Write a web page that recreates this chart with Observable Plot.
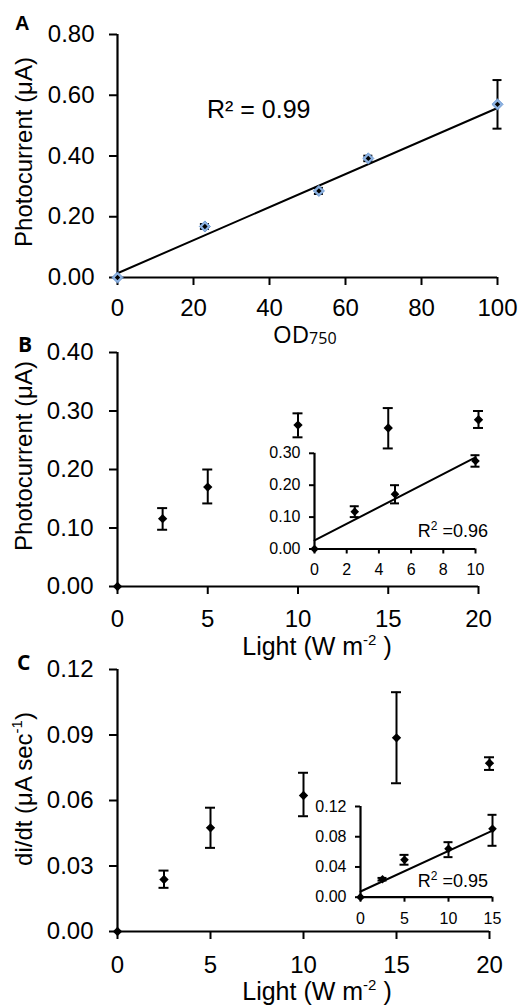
<!DOCTYPE html>
<html><head><meta charset="utf-8">
<script src="https://cdn.jsdelivr.net/npm/d3@7"></script>
<script src="https://cdn.jsdelivr.net/npm/@observablehq/plot@0.6"></script>
<style>
body{margin:0;background:#fff}
#wrap{position:relative;width:519px;height:1005px;overflow:hidden;background:#fff}
#wrap > *{position:absolute}
</style></head><body><div id="wrap"></div>
<script>
// ---------- Panel A data ----------
const aX = [0, 23, 53, 66, 100];
const aY = [0, 0.168, 0.285, 0.392, 0.57];
const aLo = [0, 0.160, 0.275, 0.383, 0.49];
const aHi = [0, 0.176, 0.295, 0.401, 0.65];
const aFitX = [0, 100];
const aFitY = [0.014, 0.558];
const aXTicks = [0, 20, 40, 60, 80, 100];
const aYTicks = [0, 0.2, 0.4, 0.6, 0.8];

// ---------- Panel B data ----------
const bX = [0, 2.5, 5, 10, 15, 20];
const bY = [0, 0.116, 0.170, 0.276, 0.271, 0.285];
const bLo = [0, 0.097, 0.142, 0.255, 0.236, 0.271];
const bHi = [0, 0.134, 0.200, 0.296, 0.305, 0.300];
const bXTicks = [0, 5, 10, 15, 20];
const bYTicks = [0, 0.1, 0.2, 0.3, 0.4];
// inset B
const biX = [0, 2.5, 5, 10];
const biY = [0, 0.117, 0.172, 0.276];
const biLo = [0, 0.100, 0.143, 0.258];
const biHi = [0, 0.134, 0.200, 0.294];
const biFitX = [0, 10];
const biFitY = [0.027, 0.287];
const biXTicks = [0, 2, 4, 6, 8, 10];
const biYTicks = [0, 0.1, 0.2, 0.3];

// ---------- Panel C data ----------
const cX = [0, 2.5, 5, 10, 15, 20];
const cY = [0, 0.0238, 0.0475, 0.0623, 0.0887, 0.0771];
const cLo = [0, 0.0200, 0.0383, 0.0528, 0.0679, 0.0740];
const cHi = [0, 0.0279, 0.0567, 0.0727, 0.1096, 0.0798];
const cXTicks = [0, 5, 10, 15, 20];
const cYTicks = [0, 0.03, 0.06, 0.09, 0.12];
// inset C
const ciX = [0, 2.5, 5, 10, 15];
const ciY = [0, 0.0238, 0.0494, 0.064, 0.0905];
const ciLo = [0, 0.022, 0.043, 0.053, 0.068];
const ciHi = [0, 0.0255, 0.056, 0.0728, 0.109];
const ciFitX = [0, 15];
const ciFitY = [0.0075, 0.088];
const ciXTicks = [0, 5, 10, 15];
const ciYTicks = [0, 0.04, 0.08, 0.12];

const rows = (xs, ys, lo, hi) => xs.map((x, i) => ({x, y: ys[i], lo: lo ? lo[i] : null, hi: hi ? hi[i] : null}));

function panel(o) {
  const pts = rows(o.x, o.y, o.lo, o.hi);
  const err = pts.filter(d => d.hi > d.lo);
  const fit = o.fitX ? rows(o.fitX, o.fitY) : [];
  const marks = [
    Plot.ruleX([0], {strokeWidth: 2.2}),
    Plot.ruleY([0], {strokeWidth: 2.2}),
    Plot.axisX({ticks: o.xTicks, tickFormat: d => String(d), tickSize: o.tickSize, tickPadding: o.padX, strokeWidth: 2, label: null}),
    Plot.axisY({ticks: o.yTicks, tickFormat: d3.format(".2f"), tickSize: o.tickSize, tickPadding: o.padY, strokeWidth: 2, label: null}),
    Plot.line(fit, {x: "x", y: "y", strokeWidth: 2, stroke: "black"}),
    Plot.ruleX(err, {x: "x", y1: "lo", y2: "hi", strokeWidth: 2}),
    Plot.ruleY(err, {x1: "x", x2: "x", y: "lo", insetLeft: -o.cap, insetRight: -o.cap, strokeWidth: 2}),
    Plot.ruleY(err, {x1: "x", x2: "x", y: "hi", insetLeft: -o.cap, insetRight: -o.cap, strokeWidth: 2})
  ];
  if (o.blue) {
    marks.push(Plot.dot(pts, {x: "x", y: "y", symbol: "diamond2", r: 5, fill: "#8fb4e3", stroke: "#6f9bd3", strokeWidth: 1}));
    marks.push(Plot.dot(pts, {x: "x", y: "y", symbol: "diamond2", r: 2.4, fill: "black"}));
  } else {
    marks.push(Plot.dot(pts, {x: "x", y: "y", symbol: "diamond2", r: o.r, fill: "black"}));
  }
  const svg = Plot.plot({
    width: o.width, height: o.height,
    marginLeft: o.ml, marginRight: o.mr, marginTop: o.mt, marginBottom: o.mb,
    x: {domain: o.xDomain},
    y: {domain: o.yDomain},
    style: {fontFamily: "'Liberation Sans', Arial, sans-serif", fontSize: o.fontSize + "px", color: "black", background: "transparent", overflow: "visible"},
    marks
  });
  svg.style.left = o.left + "px";
  svg.style.top = o.top + "px";
  document.getElementById("wrap").appendChild(svg);
}

// Panel A
panel({x: aX, y: aY, lo: aLo, hi: aHi, fitX: aFitX, fitY: aFitY, xTicks: aXTicks, yTicks: aYTicks,
  xDomain: [0, 100], yDomain: [0, 0.8], width: 519, height: 330, left: 0, top: 0,
  ml: 117, mr: 22, mt: 34, mb: 53, tickSize: 8, padX: 13, padY: 15, fontSize: 24, cap: 4.5, blue: true});
// Panel B
panel({x: bX, y: bY, lo: bLo, hi: bHi, xTicks: bXTicks, yTicks: bYTicks,
  xDomain: [0, 20], yDomain: [0, 0.4], width: 519, height: 330, left: 0, top: 330,
  ml: 117, mr: 41, mt: 22, mb: 74, tickSize: 8, padX: 15, padY: 16, fontSize: 24, cap: 5, r: 4.2});
// Inset B
panel({x: biX, y: biY, lo: biLo, hi: biHi, fitX: biFitX, fitY: biFitY, xTicks: biXTicks, yTicks: biYTicks,
  xDomain: [0, 10], yDomain: [0, 0.3], width: 260, height: 150, left: 250, top: 440,
  ml: 64, mr: 35, mt: 12.8, mb: 41.5, tickSize: 5, padX: 10, padY: 9, fontSize: 16, cap: 4.5, r: 3.9});
// Panel C
panel({x: cX, y: cY, lo: cLo, hi: cHi, xTicks: cXTicks, yTicks: cYTicks,
  xDomain: [0, 20], yDomain: [0, 0.12], width: 519, height: 345, left: 0, top: 660,
  ml: 117, mr: 30, mt: 9, mb: 74, tickSize: 8, padX: 16, padY: 16, fontSize: 24, cap: 5, r: 4.2});
// Inset C
panel({x: ciX, y: ciY, lo: ciLo, hi: ciHi, fitX: ciFitX, fitY: ciFitY, xTicks: ciXTicks, yTicks: ciYTicks,
  xDomain: [0, 15], yDomain: [0, 0.12], width: 220, height: 140, left: 295, top: 795,
  ml: 65, mr: 23, mt: 11, mb: 38.3, tickSize: 5, padX: 10, padY: 9, fontSize: 16, cap: 4.5, r: 3.9});

// ---------- text overlay ----------
const ov = d3.create("svg").attr("width", 519).attr("height", 1005)
  .style("left", "0px").style("top", "0px").style("pointer-events", "none")
  .attr("font-family", "'Liberation Sans', Arial, sans-serif").attr("fill", "black");
const sans = "'Liberation Sans', Arial, sans-serif";
const open = "'Open Sans', sans-serif";
function label(x, y, parts, {size = 24, family = sans, weight = 400, anchor = "start", rotate = false} = {}) {
  const t = ov.append("text").attr("font-size", size).attr("font-family", family).attr("font-weight", weight)
    .attr("text-anchor", anchor);
  if (rotate) t.attr("transform", `translate(${x},${y}) rotate(-90)`);
  else t.attr("x", x).attr("y", y);
  let shift = 0;
  for (const p of parts) {
    const s = typeof p === "string" ? {t: p} : p;
    const target = s.dy || 0;
    const sp = t.append("tspan").text(s.t).attr("dy", target - shift);
    if (s.size) sp.attr("font-size", s.size);
    shift = target;
  }
}
label(15, 30, ["A"], {size: 20, weight: 700});
label(18, 352, ["B"], {size: 21, family: open, weight: 700});
label(17, 670, ["C"], {size: 21, family: open, weight: 700});
label(207, 118, ["R² = 0.99"], {size: 25});
label(273, 343, ["OD", {t: "750", size: 16, dy: 1}], {size: 24, family: open});
label(32, 152, ["Photocurrent (μA)"], {size: 24, anchor: "middle", rotate: true});
label(32, 456, ["Photocurrent (μA)"], {size: 24, anchor: "middle", rotate: true});
label(32, 789, ["di/dt (μA sec", {t: "-1", size: 15, dy: -10}, ")"], {size: 24, anchor: "middle", rotate: true});
label(317, 655, ["Light (W m", {t: "-2", size: 15, dy: -10}, " )"], {size: 25, anchor: "middle"});
label(317, 1000, ["Light (W m", {t: "-2", size: 15, dy: -10}, " )"], {size: 25, anchor: "middle"});
label(488, 537, ["R", {t: "2", size: 12, dy: -7}, " =0.96"], {size: 18, anchor: "end"});
label(488, 887, ["R", {t: "2", size: 12, dy: -7}, " =0.95"], {size: 18, anchor: "end"});
document.getElementById("wrap").appendChild(ov.node());
</script></body></html>
